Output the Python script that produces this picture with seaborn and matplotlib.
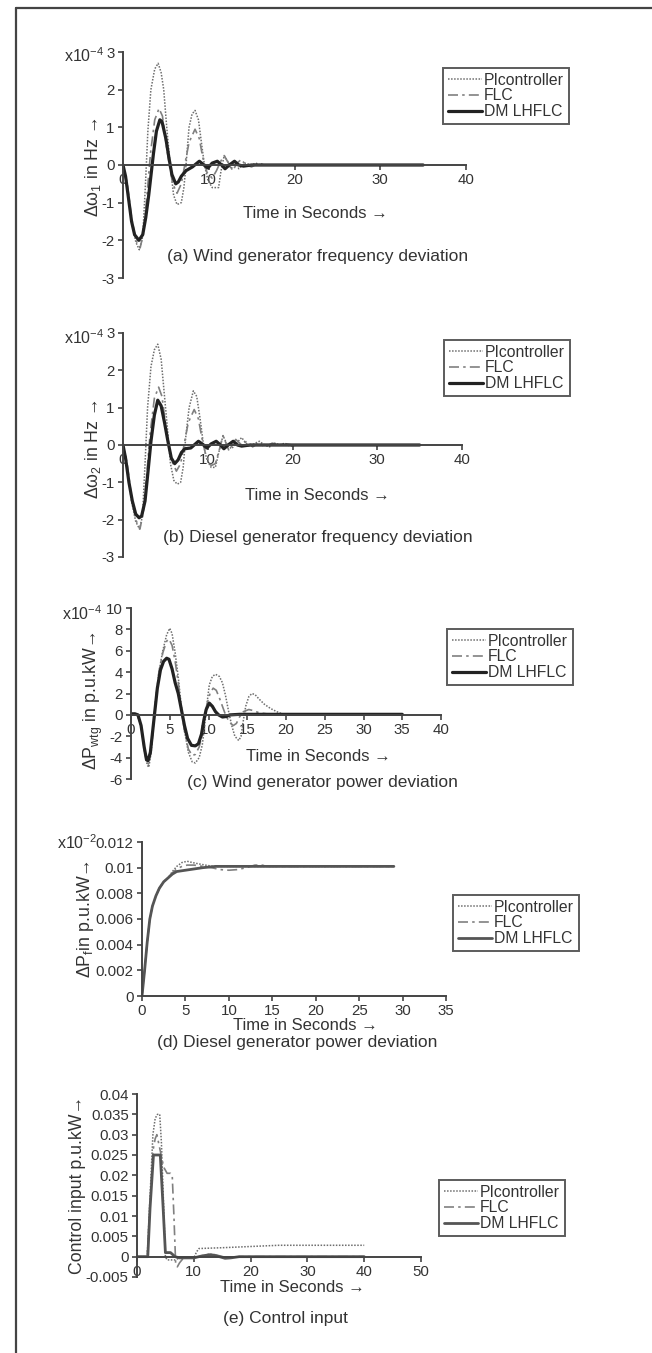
import numpy as np
import pandas as pd
import matplotlib
matplotlib.use("Agg")
import matplotlib.pyplot as plt
import seaborn as sns
from matplotlib.lines import Line2D
from matplotlib.ticker import FuncFormatter, FixedLocator

# ---------------- data ----------------
series_names = ["PIcontroller", "FLC", "DM LHFLC"]

# (a) wind generator frequency deviation (x1e-4 Hz)
a_t_pi = [0,0.5,1.0,1.5,1.9,2.3,2.6,2.9,3.25,3.7,4.1,4.45,4.75,5.1,5.5,5.9,6.3,6.8,7.1,7.35,7.7,8.05,8.4,8.8,9.2,9.5,9.9,10.4,11.15,11.4,11.8,12.2,12.6,13.15,13.5,14.2,15.0,15.5,16.0,35]
a_pi = [0,-0.6,-1.5,-2.05,-2.25,-1.9,-0.6,0.9,2.0,2.55,2.7,2.45,2.0,1.0,0.0,-0.8,-1.05,-1.0,-0.6,0.0,1.0,1.35,1.45,1.2,0.5,0.0,-0.4,-0.6,-0.6,-0.2,0.25,0.1,-0.1,0.1,-0.1,0.05,0.0,0.05,0.0,0.0]
a_t_flc = [0,0.5,1.0,1.5,2.0,2.4,2.8,3.2,3.7,4.2,4.6,5.0,5.4,5.8,6.3,6.8,7.2,7.7,8.4,8.9,9.3,9.8,10.4,10.9,11.4,11.8,12.3,12.8,13.3,13.8,14.3,15.0,15.8,16.5,35]
a_flc = [0,-0.5,-1.4,-2.0,-2.2,-1.8,-0.8,0.3,1.2,1.5,1.3,0.6,0.0,-0.5,-0.75,-0.5,0.0,0.6,0.95,0.7,0.2,-0.2,-0.35,-0.15,0.1,0.25,0.05,-0.15,0.05,0.15,0.0,-0.05,0.05,0.0,0.0]
a_t_dm = [0,0.3,0.65,1.0,1.35,1.85,2.3,2.65,3.0,3.4,3.55,3.9,4.3,4.55,5.0,5.35,5.7,6.15,6.45,6.8,7.35,8.1,8.9,9.45,9.9,10.4,11.0,11.5,11.9,12.4,13.0,13.5,14.05,15.0,35]
a_dm = [0,-0.3,-0.9,-1.5,-1.85,-2.0,-1.85,-1.4,-0.8,0.0,0.3,0.9,1.2,1.15,0.7,0.2,-0.25,-0.5,-0.45,-0.3,-0.15,-0.05,0.1,0.0,-0.08,0.05,0.1,0.0,-0.1,0.0,0.1,0.0,-0.03,0.0,0.0]

# (b) diesel generator frequency deviation (x1e-4 Hz)
b_t_pi = [0,0.5,1.0,1.5,1.95,2.3,2.6,2.9,3.3,3.7,4.1,4.5,4.9,5.3,5.6,6.0,6.4,6.8,7.1,7.4,7.8,8.3,8.7,9.1,9.5,9.9,10.4,10.9,11.3,11.8,12.3,12.8,13.4,14.0,14.5,15.0,15.6,16.1,16.7,17.3,17.9,18.5,19.1,19.7,20.5,35]
b_pi = [0,-0.6,-1.5,-2.05,-2.25,-1.9,-0.5,1.0,2.1,2.55,2.7,2.3,1.3,0.3,-0.5,-0.95,-1.05,-1.0,-0.6,0.2,1.0,1.45,1.3,0.7,0.0,-0.4,-0.6,-0.6,-0.2,0.25,0.0,-0.1,0.05,0.2,0.05,-0.05,0.05,0.1,0.0,-0.05,0.05,0.0,0.05,-0.03,0.0,0.0]
b_t_flc = [0,0.5,1.0,1.5,2.0,2.4,2.8,3.2,3.7,4.2,4.6,5.0,5.4,5.8,6.3,6.8,7.2,7.7,8.4,8.9,9.3,9.8,10.4,10.9,11.4,11.8,12.5,13.3,14.0,14.6,15.3,16.0,16.8,17.6,18.4,19.2,20.0,35]
b_flc = [0,-0.5,-1.4,-2.0,-2.25,-1.8,-0.8,0.3,1.25,1.55,1.3,0.6,0.0,-0.45,-0.7,-0.5,0.0,0.6,0.95,0.7,0.2,-0.3,-0.55,-0.5,-0.1,0.25,-0.15,0.15,0.0,0.1,-0.05,0.05,-0.05,0.05,0.0,0.03,0.0,0.0]
b_t_dm = [0,0.3,0.7,1.1,1.5,1.9,2.2,2.6,3.0,3.3,3.7,4.1,4.5,4.9,5.3,5.7,6.1,6.5,6.9,7.3,8.0,8.9,9.4,9.9,10.4,11.0,11.5,11.9,12.4,13.0,13.5,14.0,15.0,35]
b_dm = [0,-0.35,-1.0,-1.5,-1.85,-1.95,-1.9,-1.5,-0.6,0.1,0.8,1.2,1.05,0.6,0.1,-0.35,-0.5,-0.4,-0.2,-0.1,-0.08,0.1,0.02,-0.08,0.03,0.1,0.0,-0.1,0.0,0.1,0.0,-0.03,0.0,0.0]

# (c) wind generator power deviation (x1e-4 p.u.kW)
c_t_pi = [0,0.8,1.3,1.7,2.1,2.3,2.6,2.9,3.2,3.6,4.1,4.6,5.0,5.3,5.7,6.1,6.5,6.9,7.4,7.9,8.3,8.8,9.2,9.5,9.8,10.1,10.5,10.9,11.4,11.8,12.2,12.6,13.0,13.4,13.9,14.2,14.5,14.8,15.2,15.6,16.0,16.5,17.2,18.0,18.8,19.5,20.5,35]
c_pi = [0.1,0.0,-1.0,-3.2,-4.7,-4.9,-3.5,-1.0,1.5,4.0,6.0,7.5,8.1,7.6,5.8,3.5,0.8,-1.5,-3.5,-4.4,-4.5,-4.0,-2.8,-1.0,1.0,2.8,3.6,3.8,3.6,3.0,1.8,0.3,-1.0,-2.0,-2.4,-2.0,-0.5,0.8,1.7,2.0,1.9,1.5,1.0,0.6,0.3,0.1,0.05,0.05]
c_t_flc = [0,0.8,1.3,1.7,2.0,2.25,2.6,2.9,3.2,3.6,4.1,4.6,4.9,5.3,5.7,6.1,6.5,6.9,7.4,7.9,8.3,8.8,9.2,9.5,9.8,10.2,10.6,11.0,11.4,11.8,12.2,12.7,13.2,13.6,14.0,14.5,15.2,15.8,16.5,17.5,35]
c_flc = [0.1,0.0,-1.0,-3.1,-4.4,-4.6,-3.4,-1.0,1.5,4.0,5.8,6.9,7.1,6.5,5.0,3.0,0.5,-1.5,-3.2,-3.8,-3.7,-3.0,-1.8,-0.2,1.0,2.0,2.5,2.3,1.6,0.8,0.0,-0.7,-1.0,-0.8,-0.2,0.3,0.5,0.4,0.2,0.1,0.05]
c_t_dm = [0,0.5,0.9,1.3,1.7,2.0,2.2,2.5,2.8,3.1,3.4,3.8,4.2,4.6,4.9,5.3,5.7,6.1,6.5,6.9,7.3,7.8,8.3,8.7,9.1,9.4,9.7,10.1,10.5,10.9,11.3,11.8,12.3,12.8,14.0,35]
c_dm = [0.1,0.1,0.0,-1.0,-3.0,-4.2,-4.3,-3.5,-1.5,0.5,2.5,4.2,5.0,5.3,5.2,4.3,3.0,2.0,0.5,-1.0,-2.2,-2.85,-2.9,-2.7,-1.8,-0.5,0.5,1.1,0.8,0.3,0.0,-0.2,-0.15,0.0,0.05,0.05]

# (d) diesel generator power deviation
d_t_pi = [0,0.3,0.6,0.9,1.2,1.6,2.0,2.5,3.0,3.5,4.0,4.6,5.2,5.8,6.5,7.3,8.2,29]
d_pi = [0,0.002,0.0042,0.006,0.007,0.0078,0.0084,0.0089,0.0092,0.0097,0.0101,0.0104,0.0105,0.0104,0.0103,0.0102,0.0101,0.0101]
d_t_flc = [0,0.3,0.6,0.9,1.2,1.6,2.0,2.5,3.0,3.5,4.0,4.6,5.2,6.0,7.0,8.0,9.0,10.0,11.0,12.0,13.0,13.8,14.5,29]
d_flc = [0,0.002,0.0042,0.006,0.007,0.0078,0.0084,0.0089,0.0092,0.0096,0.0099,0.0101,0.0102,0.0102,0.0101,0.0100,0.00985,0.0098,0.00985,0.0100,0.0102,0.0102,0.0101,0.0101]
d_t_dm = [0,0.3,0.6,0.9,1.2,1.6,2.0,2.5,3.0,3.5,4.0,5.0,6.0,7.0,8.5,29]
d_dm = [0,0.002,0.0042,0.006,0.007,0.0078,0.0084,0.0089,0.0092,0.0095,0.0097,0.0098,0.0099,0.0100,0.0101,0.0101]

# (e) control input
e_t_pi = [0,1.8,2.3,2.8,3.2,3.6,4.0,4.3,4.7,5.0,5.3,6.7,7.5,10.0,10.5,10.9,15,20,25,30,40]
e_pi = [0,0,0.015,0.030,0.034,0.035,0.035,0.028,0.012,0.0,-0.0008,-0.0008,-0.0003,-0.0003,0.0012,0.002,0.0022,0.0025,0.0028,0.0028,0.0028]
e_t_flc = [0,1.8,2.3,2.8,3.2,3.5,4.1,4.7,5.3,5.9,6.2,6.5,6.8,7.1,7.5,8.2,10,12,13,14,16,18,40]
e_flc = [0,0,0.013,0.026,0.029,0.030,0.026,0.022,0.0205,0.0205,0.020,0.010,-0.0015,-0.0025,-0.0015,-0.0003,-0.0003,0.0004,0.0007,0.0004,-0.0003,0.0,0.0]
e_t_dm = [0,1.9,2.3,2.9,4.1,4.6,5.0,5.9,6.7,7.5,10,11.5,13,14.5,15.5,16.5,18,40]
e_dm = [0,0,0.012,0.025,0.025,0.012,0.001,0.001,0.0,-0.0003,-0.0003,0.0002,0.0005,0.0,-0.0004,-0.0003,0.0,0.0]

# ---------------- style ----------------
sns.set_style("white")
plt.rcParams["font.family"] = ["Liberation Sans", "DejaVu Sans"]
plt.rcParams["axes.unicode_minus"] = False
plt.rcParams["mathtext.fontset"] = "custom"
plt.rcParams["mathtext.rm"] = "Liberation Sans"
plt.rcParams["mathtext.it"] = "Liberation Sans:italic"
plt.rcParams["mathtext.default"] = "regular"

TXT = "#333333"
AXC = "#444444"
PI_C = "#6e6e6e"
FLC_C = "#808080"

W, H = 652, 1353
fig = plt.figure(figsize=(W / 100, H / 100), dpi=100)

def ftxt(x, y, s, **kw):
    fig.text(x / W, 1 - y / H, s, color=TXT, **kw)

fmt = FuncFormatter(lambda v, p: "%g" % round(v, 6))

panels = [
    dict(px=(123, 466, 52, 278), xlim=(0, 40), ylim=(-3, 3), xt=np.arange(0, 41, 10), yt=np.arange(-3, 4, 1),
         data=[(a_t_pi, a_pi), (a_t_flc, a_flc), (a_t_dm, a_dm)], dm_c="#222222", dm_lw=2.3,
         sci=("x10$^{-4}$", 104, 56), ylab=("Δω$_{1}$ in Hz →", 93, 167),
         tl=(315, 213), cap=("(a) Wind generator frequency deviation", 318, 257), leg=(443, 68)),
    dict(px=(123, 462, 333, 557), xlim=(0, 40), ylim=(-3, 3), xt=np.arange(0, 41, 10), yt=np.arange(-3, 4, 1),
         data=[(b_t_pi, b_pi), (b_t_flc, b_flc), (b_t_dm, b_dm)], dm_c="#222222", dm_lw=2.3,
         sci=("x10$^{-4}$", 104, 338), ylab=("Δω$_{2}$ in Hz →", 93, 449),
         tl=(317, 495), cap=("(b) Diesel generator frequency deviation", 318, 537), leg=(444, 340)),
    dict(px=(131, 441, 608, 779), xlim=(0, 40), ylim=(-6, 10), xt=np.arange(0, 41, 5), yt=np.arange(-6, 11, 2),
         data=[(c_t_pi, c_pi), (c_t_flc, c_flc), (c_t_dm, c_dm)], dm_c="#222222", dm_lw=2.3,
         sci=("x10$^{-4}$", 102, 614), ylab=("ΔP$_{\\mathrm{wtg}}$ in p.u.kW→", 93, 701),
         tl=(318, 757), cap=("(c) Wind generator power deviation", 322, 783), leg=(447, 629)),
    dict(px=(142, 446, 842, 996), xlim=(0, 35), ylim=(0, 0.012), xt=np.arange(0, 36, 5), yt=np.arange(0, 0.0121, 0.002),
         data=[(d_t_pi, d_pi), (d_t_flc, d_flc), (d_t_dm, d_dm)], dm_c="#555555", dm_lw=2.0,
         sci=("x10$^{-2}$", 97, 843), ylab=("ΔP$_{f}$in p.u.kW→", 85, 919),
         tl=(305, 1026), cap=("(d) Diesel generator power deviation", 297, 1043), leg=(453, 895)),
    dict(px=(137, 421, 1094, 1277), xlim=(0, 50), ylim=(-0.005, 0.04), xt=np.arange(0, 51, 10), yt=np.arange(-0.005, 0.0401, 0.005),
         data=[(e_t_pi, e_pi), (e_t_flc, e_flc), (e_t_dm, e_dm)], dm_c="#555555", dm_lw=2.0,
         sci=None, ylab=("Control input p.u.kW→", 78, 1185),
         tl=(292, 1287), cap=("(e) Control input", 285, 1318), leg=(439, 1180)),
]

for P in panels:
    x0, x1, y0, y1 = P["px"]
    ax = fig.add_axes([x0 / W, 1 - y1 / H, (x1 - x0) / W, (y1 - y0) / H])
    ax.set_facecolor("none")
    styles = [dict(color=PI_C, linestyle=(0, (1, 1)), linewidth=1.1),
              dict(color=FLC_C, linestyle=(0, (6, 2.5, 1.5, 2.5)), linewidth=1.2),
              dict(color=P["dm_c"], linestyle="-", linewidth=P["dm_lw"])]
    for (t, v), st in zip(P["data"], styles):
        df = pd.DataFrame({"t": t, "v": v})
        sns.lineplot(data=df, x="t", y="v", ax=ax, legend=False, **st)
    ax.set_xlim(*P["xlim"])
    ax.set_ylim(*P["ylim"])
    ax.xaxis.set_major_locator(FixedLocator(P["xt"]))
    ax.yaxis.set_major_locator(FixedLocator(P["yt"]))
    ax.xaxis.set_major_formatter(fmt)
    ax.yaxis.set_major_formatter(fmt)
    ax.set_xlabel("")
    ax.set_ylabel("")
    for s in ["top", "right"]:
        ax.spines[s].set_visible(False)
    ax.spines["bottom"].set_position(("data", 0))
    for s in ["left", "bottom"]:
        ax.spines[s].set_color(AXC)
        ax.spines[s].set_linewidth(1.4)
    ax.tick_params(axis="both", which="major", direction="out", length=3.5, width=1.2,
                   color=AXC, labelcolor=TXT, labelsize=10.8, pad=2.5,
                   bottom=True, left=True)
    ax.grid(False)

    if P["sci"]:
        s, sx, sy = P["sci"]
        ftxt(sx, sy, s, ha="right", va="center", fontsize=11.5)
    s, lx, ly = P["ylab"]
    ftxt(lx, ly, s, ha="center", va="center", rotation=90, fontsize=12.8)
    ftxt(P["tl"][0], P["tl"][1], "Time in Seconds →", ha="center", va="center", fontsize=12)
    ftxt(P["cap"][1], P["cap"][2], P["cap"][0], ha="center", va="center", fontsize=12.5)

    handles = [Line2D([], [], **styles[0]), Line2D([], [], **styles[1]), Line2D([], [], **styles[2])]
    lg = fig.legend(handles, series_names, loc="upper left",
                    bbox_to_anchor=(P["leg"][0] / W, 1 - P["leg"][1] / H),
                    bbox_transform=fig.transFigure, frameon=True, fancybox=False,
                    fontsize=11.3, handlelength=2.2, handletextpad=0.1,
                    labelspacing=0.05, borderpad=0.3, borderaxespad=0)
    fr = lg.get_frame()
    fr.set_edgecolor("#333333")
    fr.set_linewidth(1.4)
    fr.set_facecolor("white")
    for tx in lg.get_texts():
        tx.set_color(TXT)

# outer page frame (left and top edges)
fig.add_artist(Line2D([16 / W, 16 / W], [0, 1 - 8 / H], transform=fig.transFigure, color="#444444", linewidth=1.6))
fig.add_artist(Line2D([16 / W, 1], [1 - 8 / H, 1 - 8 / H], transform=fig.transFigure, color="#444444", linewidth=1.6))

fig.savefig("out.png", dpi=100, facecolor="white")
